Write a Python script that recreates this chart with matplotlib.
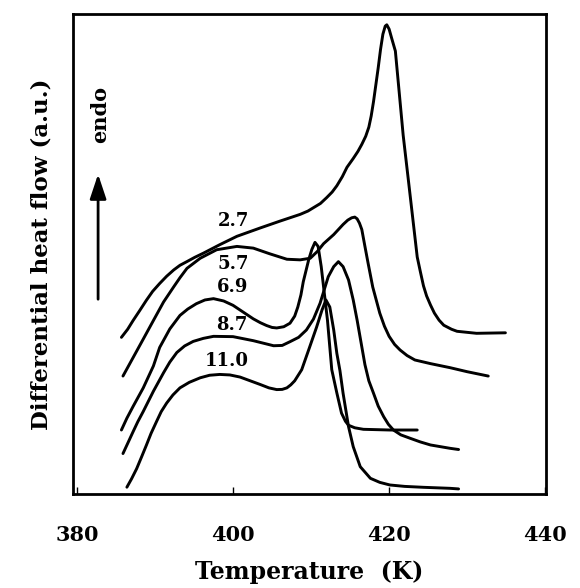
import matplotlib
matplotlib.use("Agg")
import matplotlib.pyplot as plt

# DSC traces, temperature (K) vs heat flow (a.u.)
t_27 = [385.7, 386.5, 387.2, 388.0, 388.9, 389.7, 390.6, 391.5, 392.4, 393.2,
        394.1, 395.1, 396.2, 398.3, 400.5, 403.5, 406.0, 408.6, 409.6, 410.3,
        411.2, 412.0, 412.7, 413.3, 414.0, 414.6, 415.4, 416.0, 416.5, 417.0,
        417.4, 417.7, 418.0, 418.3, 418.6, 418.9, 419.2, 419.5, 419.7, 420.0,
        420.3, 420.8, 421.2, 421.8, 422.5, 423.1, 423.6, 424.0, 424.4, 424.8,
        425.3, 425.8, 426.4, 427.0, 428.0, 428.7, 431.2, 434.9]
q_27 = [155.0, 163.0, 171.7, 181.0, 191.7, 200.5, 208.3, 215.5, 221.7, 226.3,
        230.0, 234.2, 238.3, 246.7, 255.0, 263.3, 270.0, 276.7, 280.0, 283.3,
        287.5, 293.3, 298.8, 305.0, 314.0, 323.3, 332.0, 339.0, 346.0, 354.0,
        363.0, 374.0, 388.3, 405.0, 421.7, 440.0, 455.0, 463.0, 464.3, 460.0,
        451.7, 438.3, 405.0, 355.0, 308.3, 268.0, 234.5, 220.0, 206.0, 196.0,
        187.0, 179.0, 172.0, 167.0, 163.0, 161.0, 159.0, 159.5]

t_57 = [385.9, 387.2, 388.5, 389.8, 391.1, 392.4, 393.2, 394.1, 395.8, 397.9,
        400.5, 402.6, 404.7, 406.9, 408.6, 409.9, 410.8, 411.6, 412.9, 414.1,
        414.7, 415.2, 415.6, 415.9, 416.2, 416.5, 416.9, 417.3, 417.9, 418.8,
        419.4, 420.0, 420.7, 421.4, 422.3, 423.3, 425.3, 427.8, 430.0, 432.7]
q_57 = [116.7, 135.0, 153.3, 171.7, 190.0, 205.0, 214.0, 223.3, 233.3, 241.7,
        245.0, 243.3, 237.7, 232.3, 231.7, 233.3, 240.0, 247.7, 256.7, 266.7,
        271.0, 273.3, 274.0, 272.3, 268.0, 261.7, 245.0, 228.6, 204.8, 179.0,
        166.0, 156.0, 148.0, 142.5, 137.0, 132.6, 129.0, 125.0, 121.0, 116.7]

t_69 = [385.7, 386.4, 387.2, 388.5, 389.8, 390.6, 391.9, 393.2, 394.2, 395.3,
        396.4, 397.5, 398.8, 400.0, 401.3, 402.6, 403.5, 404.3, 405.0, 405.6,
        406.5, 407.3, 407.9, 408.3, 408.7, 409.0, 409.7, 410.1, 410.5, 410.9,
        411.3, 411.6, 412.1, 412.65, 413.3, 413.9, 414.4, 414.8, 415.6, 416.7,
        420.1, 423.6]
q_69 = [63.3, 75.0, 86.7, 105.0, 126.7, 145.0, 163.3, 176.7, 183.0, 188.3,
        192.0, 193.3, 191.0, 186.7, 180.0, 173.3, 169.5, 166.7, 164.8, 164.3,
        165.5, 169.0, 176.0, 185.0, 197.0, 210.0, 232.0, 242.0, 249.0, 245.0,
        225.0, 205.0, 172.0, 123.0, 100.0, 80.0, 72.0, 68.0, 65.5, 64.0,
        63.3, 63.3]

t_87 = [385.9, 386.5, 387.2, 387.8, 388.5, 389.8, 391.1, 391.9, 392.8, 393.8,
        394.9, 396.2, 397.5, 400.0, 402.6, 405.2, 406.3, 407.3, 408.4, 409.4,
        410.3, 411.15, 412.2, 412.9, 413.5, 414.1, 414.8, 415.4, 415.9, 416.4,
        416.9, 417.4, 418.0, 418.6, 419.3, 419.9, 420.55, 421.5, 422.7, 424.0,
        425.3, 427.8, 428.9]
q_87 = [40.0, 50.0, 61.7, 71.5, 81.7, 101.7, 120.0, 130.5, 140.0, 146.5,
        151.0, 154.0, 156.0, 155.7, 151.7, 146.7, 147.0, 150.7, 155.0, 162.3,
        173.0, 188.7, 215.0, 225.0, 229.9, 225.0, 211.8, 192.0, 172.0, 150.0,
        128.0, 112.0, 99.7, 87.0, 76.5, 69.0, 63.3, 58.5, 55.1, 51.5,
        48.5, 45.2, 44.0]

t_110 = [386.4, 387.0, 387.65, 388.3, 388.9, 389.5, 390.2, 390.8, 391.5, 392.3,
         393.2, 394.4, 395.8, 397.0, 398.3, 399.6, 400.9, 402.2, 403.5, 404.6,
         405.6, 406.3, 406.9, 407.4, 407.9, 408.8, 409.8, 410.7, 411.4, 411.9,
         412.4, 412.9, 413.3, 413.7, 414.1, 414.8, 415.4, 416.3, 417.6, 418.8,
         420.1, 422.0, 424.4, 427.8, 428.9]
q_110 = [6.7, 15.0, 25.0, 37.0, 48.3, 60.0, 71.7, 81.5, 90.0, 98.0,
         105.0, 110.5, 115.0, 117.5, 118.3, 117.8, 115.7, 112.0, 108.3, 105.0,
         103.3, 103.5, 105.0, 108.0, 112.0, 123.0, 145.0, 165.0, 182.0, 192.0,
         185.0, 162.3, 139.2, 122.0, 99.7, 66.6, 46.8, 27.0, 15.5, 11.5,
         8.9, 7.5, 6.6, 5.6, 5.0]

curves = [(t_27, q_27), (t_57, q_57), (t_69, q_69), (t_87, q_87), (t_110, q_110)]

# curve labels (heating-rate tags) and where they sit
tags = ["2.7", "5.7", "6.9", "8.7", "11.0"]
tag_t = [400.0, 400.0, 400.0, 399.8, 399.2]
tag_q = [270.0, 228.0, 205.0, 167.0, 132.0]

xticks = [380, 400, 420, 440]

plt.rcParams["font.family"] = "DejaVu Serif"
plt.rcParams["font.weight"] = "bold"

fig = plt.figure(figsize=(5.8, 5.88), dpi=100)
ax = fig.add_axes([0.1259, 0.1599, 0.8155, 0.8163])

for t, q in curves:
    ax.plot(t, q, color="black", lw=2.1, solid_joinstyle="round",
            solid_capstyle="round")

for tag, t, q in zip(tags, tag_t, tag_q):
    ax.text(t, q, tag, ha="center", va="center", fontsize=13, fontweight="bold")

ax.set_xlim(379.5, 440.1)
ax.set_ylim(0, 475)

ax.set_xticks(xticks)
ax.set_xticklabels([str(x) for x in xticks])
ax.tick_params(axis="x", direction="in", length=5, width=1, pad=22,
               labelsize=15, top=False)
ax.set_yticks([])

for spine in ax.spines.values():
    spine.set_linewidth(2.0)

ax.set_xlabel("Temperature  (K)", fontsize=17, fontweight="bold", labelpad=11)
ax.set_ylabel("Differential heat flow (a.u.)", fontsize=16.5, fontweight="bold",
              labelpad=15)

# "endo" arrow pointing up
ax.annotate("", xy=(0.053, 0.672), xytext=(0.053, 0.40),
            xycoords="axes fraction",
            arrowprops=dict(arrowstyle="-|>,head_length=1.5,head_width=0.5",
                            color="black", lw=2.0))
ax.text(0.057, 0.79, "endo", rotation=90, ha="center", va="center",
        fontsize=15, fontweight="bold", transform=ax.transAxes)

fig.savefig("out.png", dpi=100)
